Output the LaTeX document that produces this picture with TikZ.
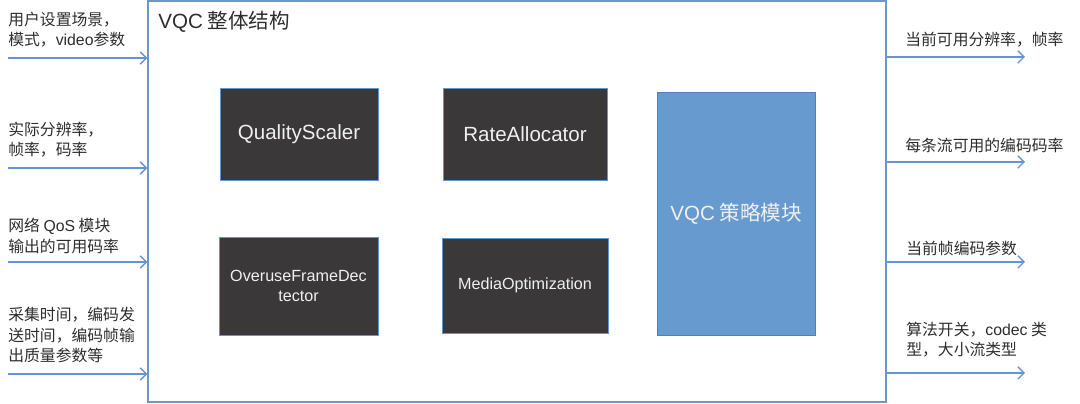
\documentclass[tikz,border=0pt]{standalone}
\usepackage{fontspec}
\setmainfont{Noto Sans CJK SC}
\newfontfamily\lat{Liberation Sans}
\usetikzlibrary{arrows.meta}
\definecolor{cframe}{RGB}{112,150,200}
\definecolor{cflow}{RGB}{98,148,214}
\definecolor{cdark}{RGB}{58,56,57}
\definecolor{cmod}{RGB}{103,155,208}
\definecolor{ctext}{RGB}{45,45,45}
\tikzset{vqcsec/.style={x=0.02cm,y=-0.02cm,font=\fontsize{9}{11.5}\selectfont,text=ctext},
  modbox/.style={fill=cdark,draw=cflow,line width=0.5pt,text=white!94!black,align=center,font=\lat\fontsize{11.7}{14}\selectfont},
  flow/.style={cflow,line width=0.8pt,-{Straight Barb[length=3.5pt,width=7pt]}},
  note/.style={anchor=west,align=left,inner sep=0pt}}

\begin{document}
\begin{tikzpicture}[vqcsec]
    \useasboundingbox (0,0) rectangle (1080,404);
    \node[draw=cframe,line width=0.8pt,minimum width=14.76cm,minimum height=8.02cm] (frame) at (517,201.5) {};
    \node[anchor=west,inner sep=0pt,font=\fontsize{11.7}{14}\selectfont] (title) at (158,22) {{\lat VQC} 整体结构};
    % modules
    \node[modbox,minimum width=3.16cm,minimum height=1.84cm] (qs) at (299,134) {QualityScaler};
    \node[modbox,minimum width=3.28cm,minimum height=1.84cm] (ra) at (525,134) {RateAllocator};
    \node[modbox,minimum width=3.18cm,minimum height=1.96cm,font=\lat\fontsize{9.2}{11}\selectfont] (ofd) at (298.5,286) {OveruseFrameDec\\tector};
    \node[modbox,minimum width=3.32cm,minimum height=1.9cm,font=\lat\fontsize{9.2}{11}\selectfont] (mo) at (525,285.5) {MediaOptimization};
    \node[modbox,fill=cmod,draw=cflow!85!black,minimum width=3.16cm,minimum height=4.86cm,font=\fontsize{11.7}{14}\selectfont] (vqc) at (736,213.5) {{\lat VQC} 策略模块};
    % inputs
    \foreach \y [count=\i] in {58,168,262,374} \coordinate (in\i) at (8,\y);
    \foreach \i in {1,...,4} \draw[flow] (in\i) -- (in\i -| frame.west);
    \node[note] (l1) at (8,30) {用户设置场景，\\模式，{\lat video}参数};
    \node[note] (l2) at (8,140) {实际分辨率，\\帧率，码率};
    \node[note] (l3) at (8,236) {网络 {\lat QoS} 模块\\输出的可用码率};
    \node[note] (l4) at (8,335) {采集时间，编码发\\送时间，编码帧输\\出质量参数等};
    % outputs
    \foreach \y [count=\i] in {57,162,262,373} \coordinate (out\i) at (1025,\y);
    \foreach \i in {1,...,4} \draw[flow] (out\i -| frame.east) -- (out\i);
    \node[note] (r1) at (905,40) {当前可用分辨率，帧率};
    \node[note] (r2) at (905,145) {每条流可用的编码码率};
    \node[note] (r3) at (906,248) {当前帧编码参数};
    \node[note] (r4) at (906,340) {算法开关，{\lat codec} 类\\型，大小流类型};
  \end{tikzpicture}
\end{document}
